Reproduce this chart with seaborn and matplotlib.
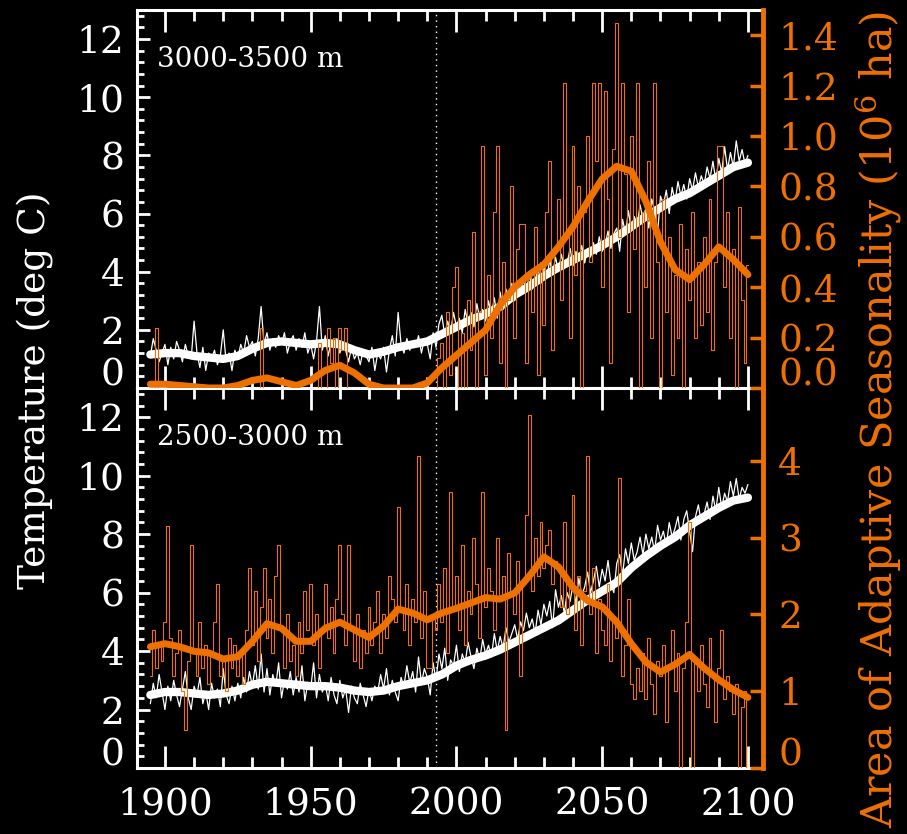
import numpy as np
import matplotlib
matplotlib.use('Agg')
import matplotlib.pyplot as plt
import matplotlib.transforms as mtransforms
from matplotlib.ticker import MultipleLocator
import seaborn as sns

# annual values 1895-2100 and 5-year smoothed curves
years = np.arange(1895, 2101)
years_smooth = np.arange(1895, 2101, 5)

# ---- 3000-3500 m ----
temp_hi = [
    1.1, 1.7, 1.3, 0.9, 1.2, 1.5, 0.8, 1.4, 1.0, 1.6,
    1.3, 0.9, 1.5, 1.1, 1.0, 2.3, 1.2, 0.7, 1.4, 0.6,
    1.2, 1.0, 1.3, 0.8, 1.1, 2.0, 0.9, 1.2, 0.6, 1.3,
    1.0, 1.5, 1.2, 1.8, 1.4, 1.6, 1.1, 1.7, 2.8, 1.5,
    1.9, 1.3, 1.7, 1.4, 1.8, 1.5, 1.9, 1.2, 1.6, 1.8,
    1.3, 1.7, 1.4, 1.9, 1.2, 1.5, 1.0, 1.6, 2.8, 1.3,
    1.8, 1.1, 1.6, 1.4, 1.7, 1.2, 1.5, 1.3, 0.9, 1.4,
    1.0, 1.2, 0.8, 1.3, 1.1, 0.9, 1.4, 0.6, 1.2, 1.0,
    1.4, 0.55, 1.3, 1.8, 1.1, 2.6, 1.5, 1.2, 1.7, 1.3,
    1.6, 1.4, 1.8, 1.2, 1.7, 1.5, 1.0, 1.9, 1.4, 2.2,
    2.5, 1.8, 2.3, 1.9, 2.6, 2.1, 2.4, 1.9, 2.7, 2.2,
    2.6, 2.1, 2.9, 2.4, 2.7, 2.3, 3.0, 2.5, 3.1, 2.4,
    3.3, 2.7, 3.4, 2.9, 3.6, 3.0, 3.5, 3.2, 3.8, 3.3,
    3.9, 3.4, 3.7, 4.1, 3.6, 4.2, 3.8, 4.4, 3.9, 4.5,
    4.0, 4.6, 4.1, 4.3, 4.8, 4.2, 4.7, 4.4, 4.9, 4.3,
    4.8, 4.5, 5.0, 4.6, 5.2, 4.7, 4.9, 5.4, 4.8, 5.3,
    5.5, 4.7, 5.8, 5.3, 6.1, 5.4, 5.9, 5.6, 6.3, 5.8,
    6.2, 5.5, 6.5, 6.1, 5.3, 6.6, 6.3, 6.8, 6.0, 6.9,
    6.4, 7.1, 6.6, 7.0, 6.5, 7.2, 6.8, 7.4, 6.9, 7.3,
    7.0, 7.6, 7.2, 7.8, 7.1, 7.9, 7.4, 8.3, 7.5, 8.1,
    7.6, 8.5, 7.8, 8.2, 7.7, 8.0,
]
temp_hi_smooth = [
    1.15, 1.2, 1.2, 1.1, 1.05, 1.0, 1.1, 1.35, 1.55, 1.6,
    1.55, 1.5, 1.55, 1.5, 1.3, 1.15, 1.25, 1.4, 1.5, 1.6,
    1.85, 2.1, 2.35, 2.55, 2.8, 3.2, 3.5, 3.85, 4.15, 4.4,
    4.65, 4.9, 5.2, 5.55, 5.9, 6.2, 6.5, 6.7, 7.0, 7.3,
    7.6, 7.75,
]
area_hi = [
    0, 0, 0.24, 0, 0, 0, 0, 0, 0, 0,
    0, 0, 0, 0, 0, 0, 0, 0, 0, 0,
    0, 0, 0, 0, 0, 0, 0, 0, 0, 0,
    0, 0, 0, 0, 0, 0, 0, 0, 0.24, 0,
    0, 0, 0, 0, 0, 0, 0, 0, 0, 0,
    0, 0, 0, 0, 0, 0, 0, 0, 0.18, 0,
    0, 0.24, 0.1, 0.2, 0, 0.24, 0.15, 0.24, 0, 0,
    0, 0, 0, 0, 0, 0, 0, 0, 0, 0,
    0, 0, 0, 0, 0, 0, 0, 0, 0, 0,
    0, 0, 0, 0, 0, 0, 0, 0, 0, 0.12,
    0.18, 0, 0.3, 0.05, 0.4, 0.48, 0, 0.22, 0, 0.35,
    0.15, 0.62, 0, 0.3, 0.96, 0.05, 0.45, 0.2, 0.7, 0.96,
    0.1, 0.5, 0, 0.35, 0.8, 0.2, 0.55, 0.65, 0.65, 0.1,
    0.45, 0.3, 0.64, 0.05, 0.5, 0.25, 0.7, 0.9, 0.15, 0.55,
    0.75, 0.35, 1.21, 0.6, 0.2, 0.96, 0.45, 0.8, 0.0, 0.7,
    1.0, 0.5, 1.21, 0.9, 1.21, 0.4, 1.18, 0.75, 0.1, 0.95,
    1.45, 0.6, 1.21, 0.85, 0.3, 1.0, 0.55, 1.21, 0.0, 0.7,
    0.4, 0.9, 0.2, 1.21, 0.5, 0.0, 0.75, 0.3, 0.6, 0.05,
    0.45, 0.2, 0.65, 0.0, 0.55, 0.35, 0.7, 0.2, 0.5, 0.25,
    0.6, 0.3, 0.75, 0.15, 0.5, 0.96, 0.96, 0.4, 0.7, 0.2,
    0.55, 0.0, 0.72, 0.35, 0.1, 0.49,
]
area_hi_smooth = [
    0.015, 0.015, 0.01, 0.005, 0.0, 0.0, 0.01, 0.03, 0.04, 0.025,
    0.01, 0.03, 0.07, 0.09, 0.06, 0.015, 0.0, 0.0, 0.0, 0.02,
    0.08, 0.13, 0.18, 0.23, 0.33, 0.40, 0.45, 0.49, 0.56, 0.64,
    0.74, 0.83, 0.88, 0.86, 0.74, 0.58, 0.47, 0.43, 0.49, 0.56,
    0.51, 0.45,
]

# ---- 2500-3000 m ----
temp_lo = [
    2.2, 2.9, 2.4, 3.2, 2.6, 2.0, 2.8, 2.3, 3.0, 2.5,
    2.1, 2.7, 3.3, 2.4, 2.0, 2.8, 2.5, 3.1, 2.2, 2.6,
    2.0, 2.9, 2.4, 2.7, 2.1, 3.4, 2.5, 2.2, 2.8, 2.3,
    2.9, 2.4, 3.1, 2.6, 3.3, 2.8, 3.5, 2.7, 3.9, 2.6,
    3.4, 2.5, 3.2, 2.8, 3.6, 2.4, 3.0, 2.7, 3.3, 2.5,
    3.1, 2.6, 3.5, 2.3, 2.9, 2.7, 3.6, 2.4, 3.2, 2.6,
    2.9, 2.3, 3.1, 2.5, 2.2, 3.0, 2.4, 2.7, 1.9, 2.8,
    2.4, 2.2, 2.9, 2.5, 2.1, 2.7, 2.3, 2.8, 2.6, 3.2,
    2.7, 3.4, 2.5, 3.0, 2.6, 2.3, 3.1, 2.8, 3.5, 2.9,
    3.3, 2.6, 3.8, 2.9, 3.4, 3.1, 2.5, 3.6, 3.0, 3.9,
    3.4, 4.1, 3.0, 3.7, 3.5, 4.2, 3.3, 3.9, 3.6, 4.3,
    3.8, 3.4, 4.1, 3.7, 4.4, 3.9, 4.2, 3.8, 4.6, 4.0,
    4.5, 4.1, 4.8, 4.3, 4.6, 4.9, 4.4, 5.0, 4.7, 5.3,
    4.8, 5.1, 4.6, 5.4, 4.9, 5.6, 5.2, 5.7, 4.8, 6.1,
    5.5, 5.9, 5.3, 6.0, 5.7, 6.3, 5.6, 6.5, 5.9, 6.2,
    6.7, 6.0, 6.4, 6.9, 6.2, 6.8, 6.4, 7.1, 6.3, 6.0,
    7.0, 7.3, 6.6, 7.5, 7.0, 7.7, 7.1, 7.4, 7.9, 7.3,
    8.0, 7.5, 7.9, 7.4, 8.3, 7.8, 8.1, 7.6, 8.4, 7.9,
    8.2, 8.6, 7.8, 8.5, 8.8, 8.1, 7.4, 8.6, 9.0, 8.4,
    8.7, 9.1, 8.5, 9.3, 8.8, 9.6, 8.9, 9.4, 9.1, 9.8,
    9.3, 9.9, 9.2, 9.6, 9.4, 9.7,
]
temp_lo_smooth = [
    2.5, 2.6, 2.6, 2.55, 2.5, 2.55, 2.65, 2.85, 2.95, 2.9,
    2.85, 2.8, 2.8, 2.75, 2.65, 2.6, 2.65, 2.8, 2.9, 3.0,
    3.2, 3.5, 3.7, 3.85, 4.05, 4.3, 4.55, 4.8, 5.05, 5.4,
    5.75, 6.05, 6.35, 6.85, 7.25, 7.6, 7.9, 8.3, 8.6, 8.9,
    9.15, 9.25,
]
area_lo = [
    1.2, 1.8, 1.3, 1.6, 1.4, 1.9, 3.15, 1.7, 1.2, 1.5,
    1.8, 1.0, 0.5, 1.4, 2.9, 1.5, 1.2, 1.9, 1.3, 1.6,
    1.1, 1.5, 1.9, 2.4, 1.2, 1.4, 1.0, 1.7, 1.3, 1.6,
    1.2, 1.5, 1.1, 1.8, 2.6, 1.6, 2.3, 1.4, 2.1, 2.6,
    1.7, 2.2, 1.5, 2.5, 2.9, 1.8, 1.3, 2.0, 1.4, 1.6,
    1.2, 1.9, 1.5, 2.3, 1.8, 2.4, 1.6, 2.0, 1.3, 1.8,
    2.4, 1.7, 2.1, 1.5, 2.2, 2.9, 2.0, 1.6, 2.9, 1.8,
    1.4, 2.0, 1.3, 1.8, 1.5, 2.1, 1.6, 1.9, 2.3, 1.5,
    2.0, 1.7, 2.5, 2.2, 1.9, 3.4, 2.1, 1.8, 2.4, 1.6,
    2.2, 1.9, 4.07, 1.7, 2.3, 1.3, 1.3, 2.0, 1.8, 2.4,
    1.9, 2.6, 1.5, 3.6, 2.1, 2.5, 1.8, 2.9, 1.6, 2.3,
    2.0, 3.0, 2.4, 1.7, 3.6, 2.1, 2.6, 2.3, 1.8, 3.0,
    2.2, 2.5, 0.5, 2.8, 2.3, 2.0, 2.7, 1.2, 2.4, 3.3,
    4.6, 2.3, 3.0, 2.5, 3.2, 2.6, 2.9, 3.1, 2.4, 2.7,
    2.6, 2.1, 3.2, 2.0, 2.4, 3.55, 1.8, 2.5, 1.6, 2.3,
    4.07, 2.0, 2.6, 1.5, 2.2, 1.8, 1.6, 2.4, 1.4, 1.9,
    1.7, 3.78, 1.2, 1.6, 2.2, 1.1, 0.9, 1.3, 1.0, 1.5,
    0.9, 1.7, 1.1, 0.7, 1.4, 1.2, 1.6, 0.6, 1.3, 1.8,
    1.0, 1.5, 0.0, 1.3, 1.9, 3.2, 0.0, 1.4, 1.0, 1.6,
    1.1, 0.8, 1.7, 1.2, 0.6, 1.3, 1.8, 0.9, 1.2, 1.0,
    0.7, 1.1, 0.0, 0.8, 1.0, 0.0,
]
area_lo_smooth = [
    1.58, 1.62, 1.58, 1.52, 1.50, 1.42, 1.45, 1.65, 1.88, 1.82,
    1.65, 1.65, 1.82, 1.90, 1.80, 1.70, 1.85, 2.07, 2.02, 1.93,
    2.02, 2.08, 2.15, 2.22, 2.20, 2.28, 2.50, 2.75, 2.62, 2.35,
    2.18, 2.10, 1.90, 1.62, 1.38, 1.25, 1.35, 1.48, 1.30, 1.15,
    1.02, 0.92,
]

ORANGE = '#ee7000'
sns.set_style('ticks')
plt.rcParams['font.family'] = ['DejaVu Serif']
plt.rcParams['mathtext.fontset'] = 'dejavuserif'

fig = plt.figure(figsize=(9.07, 8.34), dpi=100, facecolor='black')
ax_top = fig.add_axes([0.151, 0.5348, 0.690, 0.4532])
ax_bot = fig.add_axes([0.151, 0.0791, 0.690, 0.4557])


def draw_panel(ax, temp, temp_s, area, area_s, label, aylim, ayticks, aylabels, show_x):
    ax.set_facecolor('black')
    sns.lineplot(x=years, y=temp, ax=ax, color='white', lw=0.9)
    sns.lineplot(x=years_smooth, y=temp_s, ax=ax, color='white', lw=6,
                 solid_joinstyle='round')
    ax.axvline(1993, color='white', ls=(0, (1, 3)), lw=1)
    ax.set_xlim(1890.4, 2105.1)
    ax.set_ylim(0, 13)
    ax.set_yticks([0, 2, 4, 6, 8, 10, 12])
    ax.yaxis.set_minor_locator(MultipleLocator(0.4))
    ax.set_xticks([1900, 1950, 2000, 2050, 2100])
    ax.xaxis.set_minor_locator(MultipleLocator(10))
    for sp in ['left', 'top', 'bottom']:
        ax.spines[sp].set_color('white')
        ax.spines[sp].set_linewidth(2.2)
    ax.spines['right'].set_visible(False)
    ax.tick_params(axis='y', which='major', direction='in', length=9.5, width=2,
                   colors='white', labelsize=27, pad=9)
    ax.tick_params(axis='y', which='minor', direction='in', length=5, width=2,
                   colors='white')
    ax.tick_params(axis='x', which='major', direction='in', length=16, width=2,
                   colors='white', top=True, labelsize=27, pad=13,
                   labelbottom=show_x)
    ax.tick_params(axis='x', which='minor', direction='in', length=8, width=2,
                   colors='white', top=True)
    ax.set_xlabel('')
    ax.set_ylabel('')
    ax.text(0.032, 0.87, label, transform=ax.transAxes, color='white',
            fontsize=20, va='center', ha='left')

    ax2 = ax.twinx()
    sns.lineplot(x=years, y=area, ax=ax2, color=ORANGE, lw=0.8,
                 drawstyle='steps-mid')
    sns.lineplot(x=years_smooth, y=area_s, ax=ax2, color=ORANGE, lw=5,
                 solid_joinstyle='round')
    ax2.set_xlim(1890.4, 2105.1)
    ax2.set_ylim(*aylim)
    ax2.set_yticks(ayticks)
    ax2.set_yticklabels(aylabels)
    for sp in ['left', 'top', 'bottom']:
        ax2.spines[sp].set_visible(False)
    ax2.spines['right'].set_color(ORANGE)
    ax2.spines['right'].set_linewidth(3.5)
    ax2.tick_params(axis='y', direction='in', length=9.5, width=2.5,
                    colors=ORANGE, labelsize=27, pad=11)
    ax2.set_ylabel('')

    # bottom labels sit a bit above their ticks
    up = mtransforms.ScaledTranslation(0, 12 / 72, fig.dpi_scale_trans)
    lab = ax.get_yticklabels()[0]
    lab.set_transform(lab.get_transform() + up)
    lab2 = ax2.get_yticklabels()[0]
    lab2.set_transform(lab2.get_transform() + up)
    return ax2


draw_panel(ax_top, temp_hi, temp_hi_smooth, area_hi, area_hi_smooth,
           '3000-3500 m', (0, 1.5), [0, 0.2, 0.4, 0.6, 0.8, 1.0, 1.2, 1.4],
           ['0.0', '0.2', '0.4', '0.6', '0.8', '1.0', '1.2', '1.4'], False)
draw_panel(ax_bot, temp_lo, temp_lo_smooth, area_lo, area_lo_smooth,
           '2500-3000 m', (0, 4.95), [0, 1, 2, 3, 4],
           ['0', '1', '2', '3', '4'], True)

fig.text(0.0386, 0.532, 'Temperature (deg C)', rotation=90, color='white',
         fontsize=27, ha='center', va='center')
fig.text(0.969, 0.497, 'Area of Adaptive Seasonality (10$^6$ ha)', rotation=90,
         color=ORANGE, fontsize=31, ha='center', va='center')

fig.savefig('out.png', dpi=100, facecolor='black')
